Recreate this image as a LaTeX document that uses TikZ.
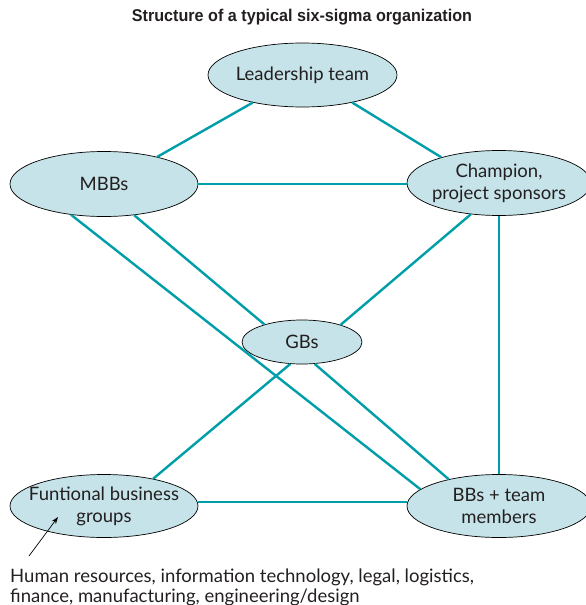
\documentclass[tikz,border=0pt]{standalone}
\usepackage{fontspec}
\setmainfont{Lato}
\newfontfamily\titlefont{Liberation Sans}
\usetikzlibrary{shapes.geometric,arrows.meta}
\definecolor{ellfill}{RGB}{197,227,232}
\definecolor{teal}{RGB}{0,158,168}
\definecolor{txt}{RGB}{35,31,32}
\tikzset{
  org/.style={ellipse, draw=black, line width=0.7pt, fill=ellfill, inner xsep=-14pt, inner ysep=0pt,
    text=txt, font=\fontsize{18.5}{22}\selectfont, align=center},
  link/.style={draw=teal, line width=2.4pt},
  note/.style={text=txt, font=\fontsize{18.5}{22}\selectfont, inner sep=0pt}
}
\begin{document}
\begin{tikzpicture}[x=1pt,y=-1pt]
\useasboundingbox (0,0) rectangle (586,605);
\node[text=txt, font=\titlefont\bfseries\fontsize{17}{20}\selectfont] (title) at (302,17)
  {\scalebox{0.95}[1]{Structure of a typical six-sigma organization}};
\node[org, minimum width=189pt, minimum height=64pt] (lead) at (302.5,75) {Leadership team};
\node[org, minimum width=188pt, minimum height=65pt] (mbb) at (104,184) {MBBs};
\node[org, minimum width=184pt, minimum height=65pt] (champ) at (499,183) {Champion,\\project sponsors};
\node[org, minimum width=120pt, minimum height=44pt] (gb) at (302,342) {GBs};
\node[org, minimum width=188pt, minimum height=63pt] (func) at (104,506) {Funtional business\\groups};
\node[org, minimum width=184pt, minimum height=63pt] (bb) at (499,506) {BBs + team\\members};

\draw[link] (lead.209) -- (mbb.27);
\draw[link] (lead.331) -- (champ.156);
\draw[link] (mbb.east) -- (mbb.east -| champ.west);
\draw[link] (mbb.314) -- (gb.155);
\draw[link] (mbb.223) -- (bb.168);
\draw[link] (champ.228) -- (gb.24);
\draw[link] (champ.south) -- (bb.north);
\draw[link] (gb.242) -- (func.29);
\draw[link] (gb.300) -- (bb.152);
\draw[link] ([yshift=4pt]func.east) -- ([yshift=4pt]bb.west);

\node[note, anchor=base west] (n1) at (10,582) {Human resources, information technology, legal, logistics,};
\node[note, anchor=base west] (n2) at (10,602) {finance, manufacturing, engineering/design};
\coordinate (arrtail) at (29,556);
\coordinate (arrtip) at (58,517);
\draw[-{Stealth[length=7pt,width=5pt]}, line width=0.7pt, black] (arrtail) -- (arrtip);
\end{tikzpicture}
\end{document}
